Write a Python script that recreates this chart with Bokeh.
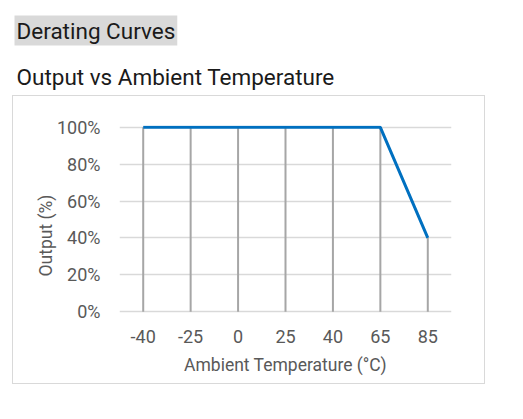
from bokeh.plotting import figure
from bokeh.models import (Range1d, FactorRange, FixedTicker, PrintfTickFormatter, Title,
                          InlineStyleSheet)
from bokeh.embed import file_html
from bokeh.resources import INLINE

temps = ["-40", "-25", "0", "25", "40", "65", "85"]
output = [100, 100, 100, 100, 100, 100, 40]
y_ticks = [0, 20, 40, 60, 80, 100]

FONT = "Roboto"
W, H = 507, 403
FL, FR, FT, FB = 119, 451, 125, 313   # frame edges in canvas px

p = figure(width=W, height=H, x_range=FactorRange(*temps), y_range=Range1d(-1, 101),
           output_backend="svg", toolbar_location=None,
           min_border_left=FL, min_border_right=W - FR, min_border_top=FT, min_border_bottom=H - FB)
p.outline_line_color = None
p.xgrid.visible = False
p.ygrid.grid_line_color = "#d9d9d9"
p.ygrid.grid_line_width = 1.5
p.yaxis.ticker = FixedTicker(ticks=y_ticks)
p.yaxis.formatter = PrintfTickFormatter(format="%d%%")
for ax in (p.xaxis[0], p.yaxis[0]):
    ax.axis_line_color = None
    ax.major_tick_line_color = None
    ax.minor_tick_line_color = None
    ax.major_label_text_font = FONT
    ax.major_label_text_font_size = "18px"
    ax.major_label_text_color = "#595959"
    ax.axis_label_text_font = FONT
    ax.axis_label_text_font_size = "17.5px"
    ax.axis_label_text_color = "#595959"
    ax.axis_label_text_font_style = "normal"
p.yaxis.major_label_standoff = 13
p.xaxis.major_label_standoff = 10
p.xaxis.axis_label = "Ambient Temperature (°C)"
p.xaxis.axis_label_standoff = 9

# y axis title, a little below centre as in the reference
p.add_layout(Title(text="Output (%)", align="left", offset=37, standoff=-4,
                   text_font=FONT, text_font_size="17.5px", text_color="#595959",
                   text_font_style="normal"), "left")

# headings
p.add_layout(Title(text="Output vs Ambient Temperature", align="left", offset=-103, standoff=71,
                   text_font=FONT, text_font_size="22.5px", text_color="#1a1a1a",
                   text_font_style="normal"), "above")
p.add_layout(Title(text="Derating Curves", align="left", offset=-105, standoff=-38,
                   text_font=FONT, text_font_size="22.5px", text_color="#1a1a1a",
                   text_font_style="normal", background_fill_color="#d9d9d9", padding=2), "above")

# box around the chart area
p.stylesheets = [InlineStyleSheet(css="""
:host { position: relative; }
:host::after { content: ""; position: absolute; left: 12px; top: 95px; width: 471px;
  height: 287px; border: 1.5px solid #d9d9d9; pointer-events: none; }
""")]

p.segment(x0=temps, y0=0, x1=temps, y1=output, line_color="#a6a6a6", line_width=2)
p.line(x=temps, y=output, line_color="#0070c0", line_width=3)

open("out.html", "w").write(file_html(p, INLINE))
